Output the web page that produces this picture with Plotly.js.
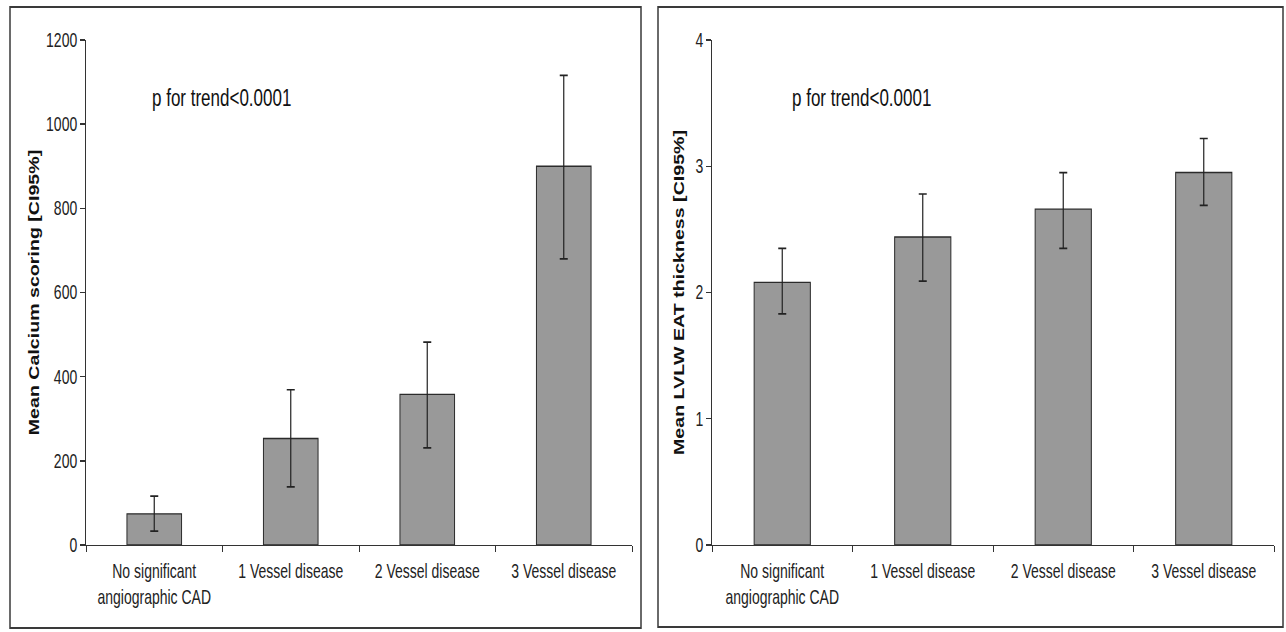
<!DOCTYPE html>
<html>
<head>
<meta charset="utf-8">
<script src="https://cdn.plot.ly/plotly-3.0.1.min.js"></script>
<style>
  html, body { margin: 0; padding: 0; background: #ffffff; }
  body { width: 1286px; height: 632px; }
  #chart { width: 1286px; height: 451px; transform: scaleY(1.40133); transform-origin: 0 0; }
</style>
</head>
<body>
<div id="chart"></div>
<script>
// ---- data ----
const categories = ["No significant<br>angiographic CAD", "1 Vessel disease", "2 Vessel disease", "3 Vessel disease"];
const calciumMean = [74, 253, 358, 900];
const calciumLow  = [33, 138, 231, 680];
const calciumHigh = [116, 369, 482, 1116];
const eatMean = [2.08, 2.44, 2.66, 2.95];
const eatLow  = [1.83, 2.09, 2.35, 2.69];
const eatHigh = [2.35, 2.78, 2.95, 3.22];
const leftTitle = "Mean Calcium scoring [CI95%]";
const rightTitle = "Mean LVLW EAT thickness [CI95%]";
const trendText = "p for trend<0.0001";

const FONT = "Liberation Sans, Arial, Helvetica, sans-serif";
const W = 1286, H = 632;
const px = v => v / W;
const py = v => 1 - v / H;

function barTrace(y, lo, hi, xa, ya) {
  return {
    type: "bar", x: categories, y: y, xaxis: xa, yaxis: ya, width: 0.4,
    marker: { color: "#999999", line: { color: "#2b2b2b", width: 1 } },
    error_y: {
      type: "data", symmetric: false,
      array: hi.map((h, i) => h - y[i]),
      arrayminus: lo.map((l, i) => y[i] - l),
      color: "#222222", thickness: 1.2, width: 4
    },
    hoverinfo: "skip", showlegend: false
  };
}

const data = [
  barTrace(calciumMean, calciumLow, calciumHigh, "x", "y"),
  barTrace(eatMean, eatLow, eatHigh, "x2", "y2")
];

const xCommon = {
  type: "category", tickson: "boundaries", ticks: "outside", ticklen: 4, tickwidth: 1,
  tickcolor: "#333", showline: true, linecolor: "#333", linewidth: 1,
  showgrid: false, zeroline: false, fixedrange: true,
  tickfont: { family: FONT, size: 14, color: "#222" }, ticklabelstandoff: 6
};
const yCommon = {
  ticks: "outside", ticklen: 5, tickwidth: 1, tickcolor: "#333",
  showline: true, linecolor: "#333", linewidth: 1,
  showgrid: false, zeroline: false, fixedrange: true,
  tickfont: { family: FONT, size: 14, color: "#222" }
};

const layout = {
  width: W, height: 451,
  margin: { l: 0, r: 0, t: 0, b: 0, pad: 0 },
  paper_bgcolor: "#ffffff", plot_bgcolor: "#ffffff",
  bargap: 0.6,
  xaxis: Object.assign({}, xCommon, { domain: [px(86), px(632)], anchor: "y" }),
  yaxis: Object.assign({}, yCommon, {
    domain: [py(545), py(40)], anchor: "x", range: [0, 1200], dtick: 200,
    title: { text: leftTitle, font: { family: FONT, size: 14, color: "#111", weight: "bold" }, standoff: 3 }
  }),
  xaxis2: Object.assign({}, xCommon, { domain: [px(712), px(1274)], anchor: "y2" }),
  yaxis2: Object.assign({}, yCommon, {
    domain: [py(545), py(40)], anchor: "x2", range: [0, 4], dtick: 1,
    title: { text: rightTitle, font: { family: FONT, size: 14, color: "#111", weight: "bold" }, standoff: 7 }
  }),
  annotations: [
    { text: trendText, xref: "paper", yref: "paper", x: px(150), y: py(99), xanchor: "left", yanchor: "middle",
      showarrow: false, font: { family: FONT, size: 17, color: "#111" } },
    { text: trendText, xref: "paper", yref: "paper", x: px(790), y: py(99), xanchor: "left", yanchor: "middle",
      showarrow: false, font: { family: FONT, size: 17, color: "#111" } }
  ],
  shapes: [
    { type: "rect", xref: "paper", yref: "paper", x0: px(10), x1: px(641), y0: py(628), y1: py(7),
      line: { color: "#3a3a3a", width: 1.5 }, fillcolor: "rgba(0,0,0,0)" },
    { type: "rect", xref: "paper", yref: "paper", x0: px(658), x1: px(1283), y0: py(627), y1: py(7),
      line: { color: "#3a3a3a", width: 1.5 }, fillcolor: "rgba(0,0,0,0)" }
  ]
};

Plotly.newPlot("chart", data, layout, { staticPlot: true, displayModeBar: false });
</script>
</body>
</html>
